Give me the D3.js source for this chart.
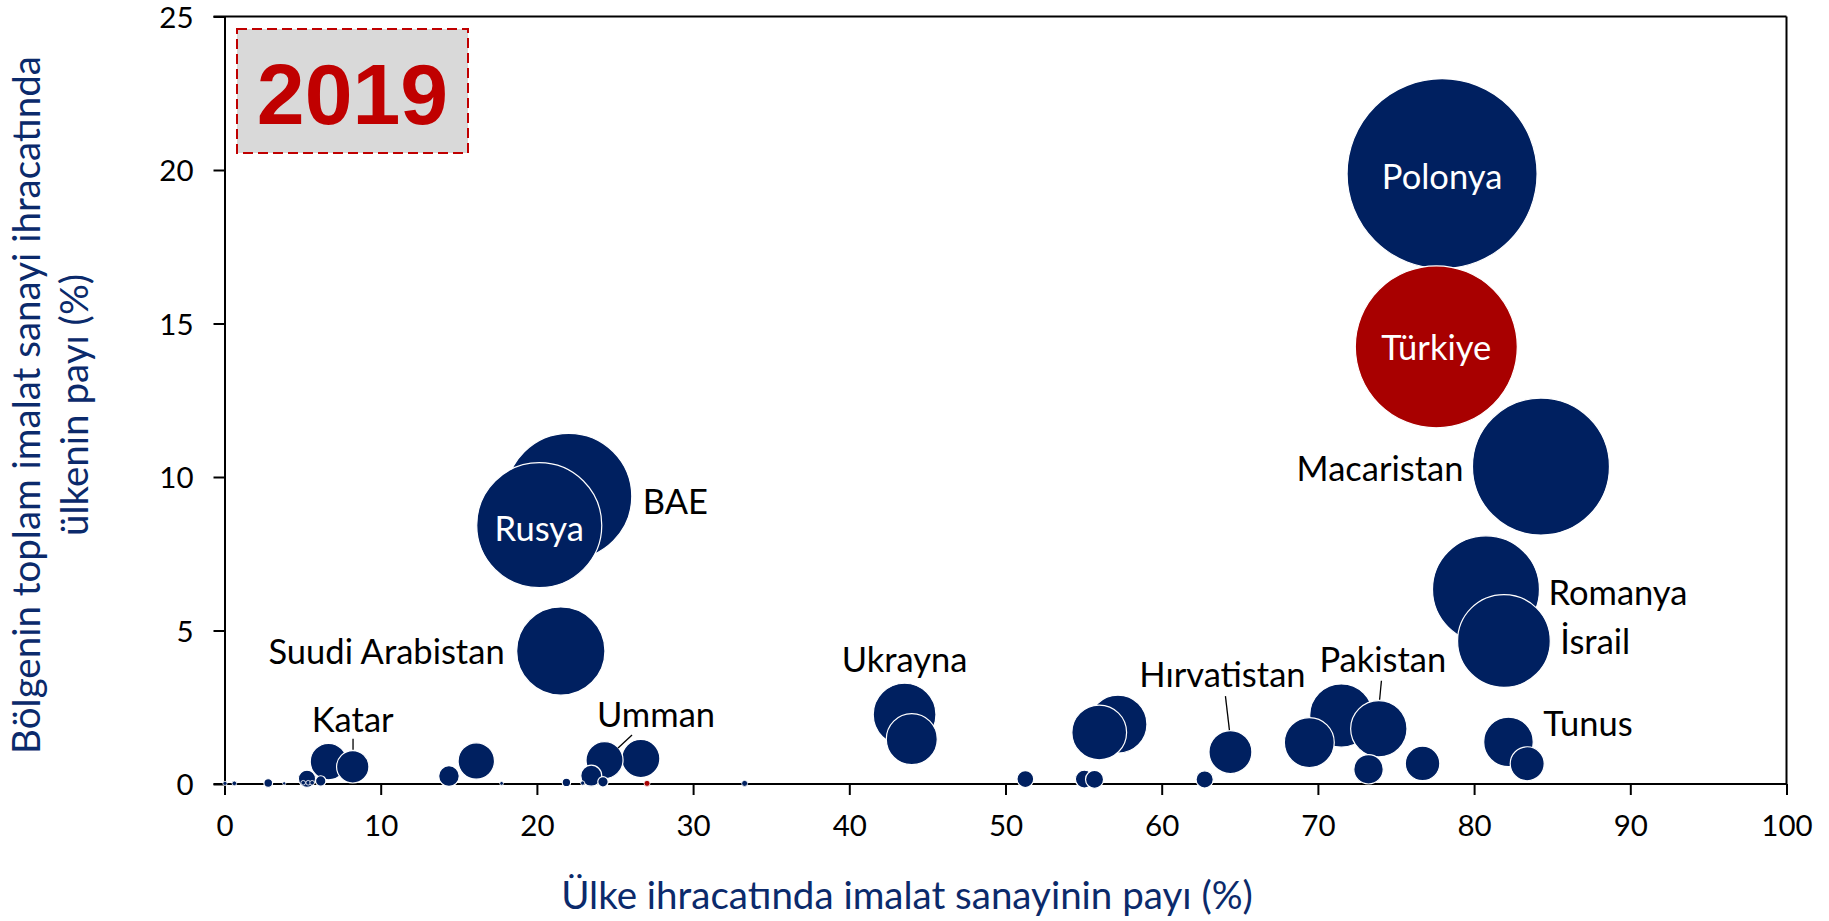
<!DOCTYPE html>
<html>
<head>
<meta charset="utf-8">
<script src="https://cdn.jsdelivr.net/npm/d3@7"></script>
<style>
  html, body { margin: 0; padding: 0; background: #ffffff; }
  svg { display: block; font-family: Lato, "Open Sans", sans-serif; }
</style>
</head>
<body>
<svg id="chart" width="1829" height="921"></svg>
<script>
// ---------------- DATA ----------------
const countries = ["Polonya","Türkiye","Macaristan","BAE","Rusya","Romanya","İsrail","Suudi Arabistan",
  "","Ukrayna","","Pakistan","","","","Tunus","Hırvatistan","","Umman","","","","","Katar","",
  "","","","","","","","","","","","","","",
  "","","","","","","",""];
const xValues = [77.95,77.58,84.28,22.04,20.15,80.76,81.91,21.53,
  71.5,43.54,57.2,73.9,56.0,44.0,69.45,82.2,64.4,26.65,24.33,6.66,16.12,76.7,83.4,8.21,73.24,
  23.48,14.37,55.05,55.7,62.75,5.28,51.27,6.16,24.23,2.8,21.89,33.3,27.05,
  0.03,0.63,3.82,5.04,5.36,5.61,17.74,22.93];
const yValues = [19.88,14.24,10.34,9.37,8.43,6.34,4.66,4.33,
  2.23,2.26,1.95,1.80,1.68,1.46,1.35,1.37,1.04,0.83,0.78,0.73,0.75,0.67,0.66,0.56,0.48,
  0.27,0.26,0.16,0.15,0.15,0.17,0.16,0.10,0.07,0.03,0.05,0.02,0.02,
  0.02,0.02,0.02,0.04,0.04,0.04,0.02,0.03];
const sizeValues = [100,72.7,52,44,43.3,31.7,23.8,21.6,
  11.1,10.9,9.3,8.8,8.3,7.2,6.9,6.8,5.1,4.04,3.8,3.7,3.67,3.3,3.2,2.9,2.4,
  1.22,1.18,0.9,0.9,0.82,0.82,0.78,0.3,0.3,0.21,0.2,0.1,0.1,
  0.05,0.06,0.03,0.06,0.06,0.06,0.04,0.05];
const groups = xValues.map((d, i) => (i === 1 || i === 37) ? "Türkiye" : "Diğer");
const xTicks = [0,10,20,30,40,50,60,70,80,90,100];
const yTicks = [0,5,10,15,20,25];
const yearLabel = "2019";
const xTitle = "Ülke ihracatında imalat sanayinin payı (%)";
const yTitleLines = ["Bölgenin toplam imalat sanayi ihracatında", "ülkenin payı (%)"];

// ---------------- LAYOUT / STYLE ----------------
const M = { left: 224.5, right: 1786.5, top: 16.5, bottom: 784 };
const NAVY = "#002060", RED = "#A80000", TITLE = "#0B2A6B";
// label placement: anchor, offsets from bubble centre (px), optional leader line
const labelPlacement = {
  "Polonya":        { color: "#fff", anchor: "middle", dx: 0, dy: 3 },
  "Türkiye":        { color: "#fff", anchor: "middle", dx: 0, dy: 1 },
  "Rusya":          { color: "#fff", anchor: "middle", dx: 0, dy: 3 },
  "Macaristan":     { anchor: "end",   side: -1, gap: 9, dy: 2 },
  "BAE":            { anchor: "start", side: 1, gap: 11, dy: 5 },
  "Romanya":        { anchor: "start", side: 1, gap: 9, dy: 3 },
  "İsrail":         { anchor: "start", side: 1, gap: 10, dy: 1 },
  "Tunus":          { anchor: "start", side: 1, gap: 10, dy: -18 },
  "Suudi Arabistan":{ anchor: "end",   side: -1, gap: 12, dy: 1 },
  "Ukrayna":        { anchor: "middle", dx: 0, dy: -55 },
  "Hırvatistan":    { anchor: "middle", dx: -8, dy: -77, leader: [-5, -56, -1, -22] },
  "Pakistan":       { anchor: "middle", dx: 4, dy: -69, leader: [2.6, -48, 0.8, -29] },
  "Katar":          { anchor: "middle", dx: 0, dy: -47, leader: [0.3, -28, 0.3, -17] },
  "Umman":          { anchor: "middle", dx: 51.5, dy: -45, leader: [27.5, -25, 13.5, -12] }
};

const svg = d3.select("#chart");
const x = d3.scaleLinear().domain([0, 100]).range([M.left, M.right]);
const y = d3.scaleLinear().domain([0, 25]).range([M.bottom, M.top]);
const r = d3.scaleSqrt().domain([0, 100]).range([0, 95]);
const color = d3.scaleOrdinal().domain(["Diğer", "Türkiye"]).range([NAVY, RED]);

// frame (top and right)
svg.append("line").attr("x1", M.left - 11).attr("x2", M.right).attr("y1", M.top).attr("y2", M.top)
  .attr("stroke", "#000").attr("stroke-width", 2);
svg.append("line").attr("x1", M.right).attr("x2", M.right).attr("y1", M.top).attr("y2", M.bottom)
  .attr("stroke", "#000").attr("stroke-width", 2);

// axes
const xAxis = svg.append("g").attr("transform", `translate(0,${M.bottom})`)
  .call(d3.axisBottom(x).tickValues(xTicks).tickSize(11).tickSizeOuter(0).tickPadding(0));
const yAxis = svg.append("g").attr("transform", `translate(${M.left},0)`)
  .call(d3.axisLeft(y).tickValues(yTicks).tickSize(11).tickSizeOuter(0).tickPadding(20));
[xAxis, yAxis].forEach(g => {
  g.select(".domain").attr("stroke", "#000").attr("stroke-width", 2);
  g.selectAll(".tick line").attr("stroke", "#000").attr("stroke-width", 2);
  g.selectAll(".tick text").attr("fill", "#000").style("font-size", "29.5px").style("font-family", "Lato");
});
xAxis.selectAll(".tick text").attr("y", 52).attr("dy", "0");
yAxis.selectAll(".tick text").attr("dy", "0.36em");
xAxis.select(".domain").attr("d", `M${M.left - 11},0H${M.right}`);

// 2019 box
const box = svg.append("g");
box.append("rect").attr("x", 237).attr("y", 29).attr("width", 231).attr("height", 124)
  .attr("fill", "#D9D9D9").attr("stroke", "#C00000").attr("stroke-width", 2)
  .attr("stroke-dasharray", "10,5");
box.append("text").attr("x", 352.5).attr("y", 124).attr("text-anchor", "middle")
  .style("font-family", "'Liberation Sans', Arial, sans-serif").style("font-weight", "bold")
  .style("font-size", "86px").attr("fill", "#C00000").text(yearLabel);

// bubbles
const data = countries.map((c, i) => ({ name: c, x: xValues[i], y: yValues[i], s: sizeValues[i], g: groups[i] }));
const drawOrder = data.slice().sort((a, b) => b.s - a.s);
svg.append("g").selectAll("circle").data(drawOrder).join("circle")
  .attr("cx", d => x(d.x)).attr("cy", d => y(d.y)).attr("r", d => r(d.s))
  .attr("fill", d => color(d.g)).attr("stroke", "#ffffff").attr("stroke-width", d => r(d.s) < 4 ? 0.8 : 1.2);

// labels
const lg = svg.append("g").style("font-family", "Lato").style("font-size", "34.5px");
data.filter(d => labelPlacement[d.name]).forEach(d => {
  const p = labelPlacement[d.name];
  const cx = x(d.x), cy = y(d.y), rr = r(d.s);
  let tx = cx + (p.dx || 0);
  if (p.side) tx = cx + p.side * (rr + p.gap);
  const ty = cy + p.dy;
  if (p.leader) {
    lg.append("line").attr("x1", cx + p.leader[0]).attr("y1", cy + p.leader[1])
      .attr("x2", cx + p.leader[2]).attr("y2", cy + p.leader[3])
      .attr("stroke", "#000").attr("stroke-width", 1.3);
  }
  lg.append("text").attr("x", tx).attr("y", ty).attr("dy", "0.36em")
    .attr("text-anchor", p.anchor).attr("fill", p.color || "#000").text(d.name);
});

// axis titles
svg.append("text").attr("x", 907).attr("y", 909).attr("text-anchor", "middle")
  .style("font-family", "Lato").style("font-size", "38.5px").attr("fill", TITLE).text(xTitle);
const yt = svg.append("text").attr("transform", "translate(0,405) rotate(-90)")
  .attr("text-anchor", "middle").style("font-family", "Lato").style("font-size", "38.5px").attr("fill", TITLE);
yt.append("tspan").attr("x", 0).attr("y", 40).text(yTitleLines[0]);
yt.append("tspan").attr("x", 0).attr("y", 88).text(yTitleLines[1]);
</script>
</body>
</html>
